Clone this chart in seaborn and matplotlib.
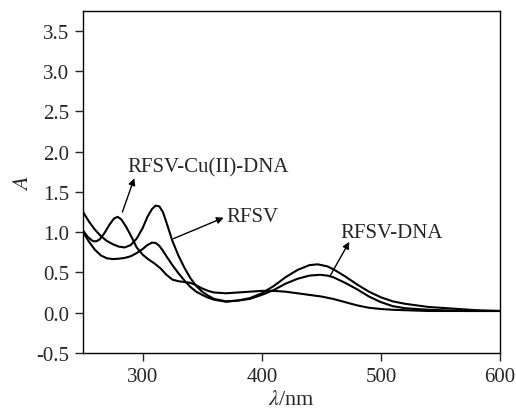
import numpy as np
import pandas as pd
import matplotlib
matplotlib.use('Agg')
import matplotlib.pyplot as plt
import seaborn as sns

# absorbance spectra (wavelength in nm, absorbance A)
rfsv_wl = [250, 255, 260, 265, 270, 275, 280, 285, 290, 295, 300, 304, 308, 311, 314, 317,
           320, 325, 330, 335, 340, 345, 350, 355, 360, 370, 380, 390, 400, 410, 420, 430,
           440, 447, 455, 460, 470, 480, 490, 500, 510, 520, 530, 540, 550, 560, 570, 580,
           590, 600]
rfsv_a = [1.25, 1.13, 1.03, 0.95, 0.89, 0.85, 0.82, 0.81, 0.84, 0.92, 1.05, 1.19, 1.29, 1.33,
          1.32, 1.25, 1.12, 0.89, 0.71, 0.56, 0.43, 0.33, 0.26, 0.21, 0.17, 0.14, 0.15, 0.18,
          0.24, 0.33, 0.44, 0.53, 0.59, 0.60, 0.575, 0.54, 0.45, 0.35, 0.26, 0.19, 0.14, 0.11,
          0.09, 0.07, 0.06, 0.05, 0.04, 0.03, 0.025, 0.02]

dna_wl = [250, 255, 260, 265, 270, 275, 280, 285, 290, 295, 300, 304, 308, 311, 314, 317,
          320, 325, 330, 335, 340, 345, 350, 355, 360, 370, 380, 390, 400, 410, 420, 430,
          440, 449, 455, 460, 470, 480, 490, 500, 510, 520, 530, 540, 550, 560, 570, 600]
dna_a = [1.00, 0.88, 0.78, 0.71, 0.675, 0.665, 0.67, 0.68, 0.70, 0.74, 0.79, 0.84, 0.87, 0.865,
         0.83, 0.77, 0.70, 0.59, 0.49, 0.40, 0.32, 0.26, 0.22, 0.185, 0.16, 0.135, 0.15, 0.17,
         0.22, 0.28, 0.36, 0.42, 0.46, 0.47, 0.46, 0.44, 0.37, 0.29, 0.20, 0.13, 0.08, 0.055,
         0.045, 0.035, 0.03, 0.025, 0.02, 0.02]

cu_wl = [250, 254, 258, 261, 264, 268, 272, 276, 279, 282, 286, 290, 295, 300, 305, 310,
         315, 320, 325, 330, 335, 340, 345, 350, 355, 360, 370, 380, 390, 400, 410, 420,
         430, 440, 450, 460, 470, 480, 490, 500, 510, 520, 530, 540, 600]
cu_a = [1.02, 0.94, 0.89, 0.885, 0.91, 0.99, 1.09, 1.17, 1.19, 1.16, 1.07, 0.96, 0.81, 0.72,
        0.66, 0.61, 0.55, 0.47, 0.41, 0.39, 0.38, 0.37, 0.34, 0.30, 0.27, 0.25, 0.24, 0.25,
        0.26, 0.27, 0.27, 0.26, 0.24, 0.22, 0.20, 0.17, 0.13, 0.09, 0.06, 0.045, 0.035, 0.03,
        0.025, 0.02, 0.02]

spectra = pd.concat([
    pd.DataFrame({'wl': rfsv_wl, 'A': rfsv_a, 'sample': 'RFSV'}),
    pd.DataFrame({'wl': dna_wl, 'A': dna_a, 'sample': 'RFSV-DNA'}),
    pd.DataFrame({'wl': cu_wl, 'A': cu_a, 'sample': 'RFSV-Cu(II)-DNA'}),
])

sns.set_style('ticks')
plt.rcParams['font.family'] = ['Liberation Serif', 'DejaVu Serif']
plt.rcParams['mathtext.fontset'] = 'stix'

fig = plt.figure(figsize=(5.16, 4.10), dpi=100)
ax = fig.add_axes([0.161, 0.137, 0.808, 0.834])

sns.lineplot(data=spectra, x='wl', y='A', units='sample', estimator=None, sort=False,
             color='black', linewidth=1.5, ax=ax)

ax.set_xlim(250, 600)
ax.set_ylim(-0.5, 3.75)
ax.set_xticks([300, 400, 500, 600])
yt = np.arange(-0.5, 3.51, 0.5)
ax.set_yticks(yt)
ax.set_yticklabels([f'{v:.1f}' for v in yt])
ax.tick_params(direction='out', length=6, width=1, pad=4, labelsize=15, top=False, right=False)
for s in ax.spines.values():
    s.set_linewidth(1)
    s.set_color('black')

ax.set_xlabel(r'$\lambda$/nm', fontsize=16, labelpad=3)
ax.set_ylabel(r'$A$', fontsize=16, labelpad=2)

arrow = dict(arrowstyle='-|>', color='black', lw=1, mutation_scale=10, shrinkA=0, shrinkB=0)
ax.annotate('', xy=(293, 1.67), xytext=(283, 1.25), arrowprops=arrow)
ax.text(287, 1.81, 'RFSV-Cu(II)-DNA', fontsize=15, va='center', ha='left')
ax.annotate('', xy=(368, 1.18), xytext=(326, 0.92), arrowprops=arrow)
ax.text(370, 1.19, 'RFSV', fontsize=15, va='center', ha='left')
ax.annotate('', xy=(473.5, 0.88), xytext=(457.5, 0.46), arrowprops=arrow)
ax.text(466, 1.0, 'RFSV-DNA', fontsize=15, va='center', ha='left')

fig.savefig('out.png', dpi=100)
